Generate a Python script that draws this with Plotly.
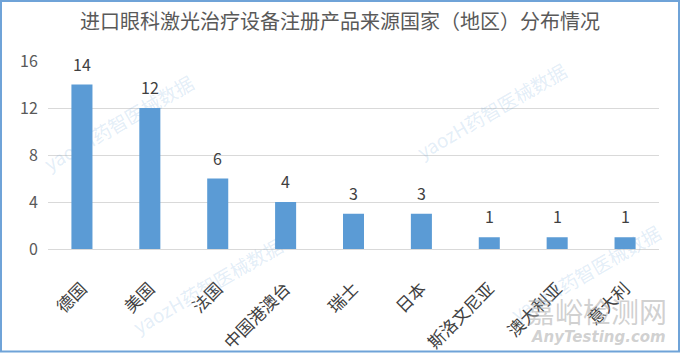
import plotly.graph_objects as go

categories = ["德国", "美国", "法国", "中国港澳台", "瑞士", "日本", "斯洛文尼亚", "澳大利亚", "意大利"]
values = [14, 12, 6, 4, 3, 3, 1, 1, 1]
y_ticks = [0, 4, 8, 12, 16]
title_text = "进口眼科激光治疗设备注册产品来源国家（地区）分布情况"

FONT = "Noto Sans CJK SC, Microsoft YaHei, sans-serif"
W, H = 680, 353
ML, MR, MT, MB = 48, 21, 61, 104
PW, PH = W - ML - MR, H - MT - MB

def px_x(p):
    return (p - ML) / PW

def px_y(p):
    return (H - MB - p) / PH

fig = go.Figure()
fig.add_trace(go.Bar(
    x=categories, y=values,
    marker=dict(color="#5B9BD5", line=dict(width=0)),
    hoverinfo="x+y",
))

annotations = []
for c, v in zip(categories, values):
    annotations.append(dict(
        x=c, y=v, xref="x", yref="y", text=str(v), showarrow=False,
        yanchor="bottom", yshift=7,
        font=dict(family=FONT, size=16, color="#404040"),
    ))

# watermarks
wm_yz = "yaozH药智医械数据"
for cx, cy in [(118, 122), (491, 110), (207, 285), (585, 272)]:
    annotations.append(dict(
        x=px_x(cx), y=px_y(cy), xref="paper", yref="paper", text=wm_yz,
        showarrow=False, textangle=-30, xanchor="center", yanchor="middle",
        font=dict(family=FONT, size=19, color="rgba(91,155,213,0.18)"),
    ))
annotations.append(dict(
    x=px_x(597), y=px_y(311), xref="paper", yref="paper", text="嘉峪检测网",
    showarrow=False, xanchor="center", yanchor="middle",
    font=dict(family=FONT, size=28, color="rgba(170,170,170,0.55)"),
))
annotations.append(dict(
    x=px_x(598), y=px_y(337), xref="paper", yref="paper", text="<b><i>AnyTesting.com</i></b>",
    showarrow=False, xanchor="center", yanchor="middle",
    font=dict(family="DejaVu Sans, sans-serif", size=15, color="rgba(170,170,170,0.55)"),
))

fig.update_layout(
    width=W, height=H,
    margin=dict(l=ML, r=MR, t=MT, b=MB, autoexpand=False),
    paper_bgcolor="white", plot_bgcolor="white",
    bargap=0.69,
    showlegend=False,
    title=dict(text=title_text, x=0.5, xref="container", xanchor="center",
               y=1 - 22 / H, yref="container", yanchor="middle",
               font=dict(family=FONT, size=20, color="#595959")),
    annotations=annotations,
    shapes=[dict(type="rect", xref="paper", yref="paper",
                 x0=px_x(1), x1=px_x(679), y0=px_y(351.5), y1=px_y(1),
                 line=dict(color="#6FA3D8", width=2), layer="above")],
)
fig.update_xaxes(
    automargin=False,
    showgrid=False, showline=True, linecolor="#D9D9D9", linewidth=1,
    tickangle=-45, ticks="outside", ticklen=22, tickcolor="rgba(0,0,0,0)",
    tickfont=dict(family=FONT, size=17, color="#404040"),
)
fig.update_yaxes(
    automargin=False,
    range=[0, 16], tickvals=y_ticks, showgrid=True, gridcolor="#D9D9D9",
    zeroline=False, showline=False,
    ticks="outside", ticklen=6, tickcolor="rgba(0,0,0,0)",
    tickfont=dict(family=FONT, size=16, color="#595959"),
)

fig.write_html("out.html")
